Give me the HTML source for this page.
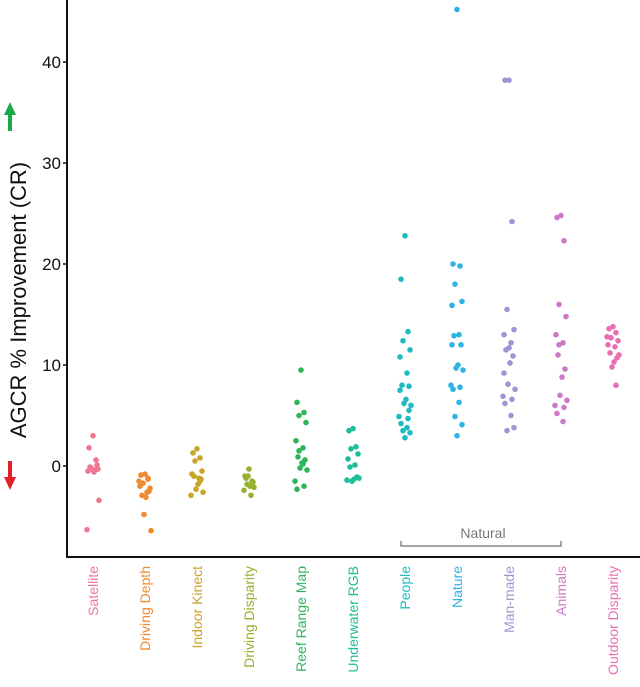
<!DOCTYPE html>
<html><head><meta charset="utf-8"><style>
body{margin:0;background:#fff}
svg{display:block;font-family:"Liberation Sans",sans-serif}
</style></head><body>
<svg id="chart" width="640" height="687" viewBox="0 0 640 687"></svg>
<script>
const categories=["Satellite","Driving Depth","Indoor Kinect","Driving Disparity","Reef Range Map","Underwater RGB","People","Nature","Man-made","Animals","Outdoor Disparity"];
const colors=["#f07691","#f08a2e","#c8a429","#96b12e","#2eb55a","#1ebc98","#1ebcc1","#2fb2e6","#9c96d4","#cc79c8","#e96fb3"];
const satellite=[3,1.8,0.6,-0.2,-0.3,-0.5,-0.4,-0.1,0.1,-0.6,-0.3,-3.4,-6.3];
const drivingDepth=[-0.8,-0.9,-1.3,-1.7,-2.2,-2.0,-2.6,-2.9,-2.5,-3.1,-4.8,-6.4,-1.5,-1.2];
const indoorKinect=[1.7,1.3,0.8,0.5,-0.5,-0.8,-1.2,-1.0,-1.3,-1.8,-2.3,-2.6,-2.9,-1.5];
const drivingDisparity=[-0.3,-1.0,-1.5,-1.8,-2.1,-2.4,-2.9,-1.2,-1.6,-2.0,-1.0];
const reef=[9.5,6.3,5.3,5.0,4.3,2.5,1.8,0.9,0.6,0.3,-0.2,-0.4,-1.5,-2.0,-2.3,0.2,1.5];
const underwater=[3.7,3.5,1.9,1.7,1.2,0.7,0.1,-0.1,-1.1,-1.3,-1.5,-1.2,-1.4];
const people=[22.8,18.5,13.3,12.4,11.5,10.8,9.2,8.0,7.9,6.6,6.2,6.0,4.9,4.7,4.2,3.8,3.5,3.3,2.8,7.5,5.5];
const nature=[45.2,20.0,19.8,18.0,16.3,15.9,13.0,12.9,12.0,10.0,9.7,9.5,8.0,7.8,7.6,6.3,4.9,4.1,3.0,12.0];
const manMade=[38.2,38.2,24.2,15.5,13.5,13.0,12.2,11.5,10.9,10.2,8.1,7.6,6.9,6.6,6.2,5.0,3.5,3.8,11.7,9.2];
const animals=[24.8,24.6,22.3,16.0,14.8,13.0,12.2,11.0,9.6,8.8,7.0,6.5,6.0,5.8,5.2,4.4,12.0];
const outdoor=[13.8,13.6,13.2,12.7,12.4,12.0,11.8,11.2,10.7,10.3,9.8,11.0,12.8,8.0];
const series=[satellite,drivingDepth,indoorKinect,drivingDisparity,reef,underwater,people,nature,manMade,animals,outdoor];
const yTicks=[0,10,20,30,40];

const NS="http://www.w3.org/2000/svg";
const svg=document.getElementById("chart");
const x0=67,xBot=557;
const y=v=>466-10.1*v;
const x=i=>93+52*i;
function mk(t,a,parent){const e=document.createElementNS(NS,t);for(const k in a)e.setAttribute(k,a[k]);(parent||svg).appendChild(e);return e;}

let ax=mk("path",{d:`M${x0},0 V${xBot} H640`,stroke:"#111",fill:"none","stroke-width":2});


yTicks.forEach(t=>{
 const l=mk("line",{x1:x0-4,x2:x0,y1:y(t),y2:y(t),stroke:"#111","stroke-width":1.5});
 
 
 const tx=mk("text",{x:x0-6,y:y(t)+6,"text-anchor":"end","font-size":17,fill:"#111"});
 tx.textContent=t;
 
 
});
const jit=[0,-4,3,-2,5,-5,2,-3,4,1,-1,6,-6,3,-4,2,-2,5,0,-5,4];
series.forEach((vals,i)=>{
 const g=mk("g",{});
 
 
 vals.forEach((v,j)=>{
  const c=mk("circle",{cx:x(i)+jit[j%jit.length],cy:y(v),r:2.8,fill:colors[i]},g);
  
  
 });
 const lab=mk("text",{transform:`translate(${x(i)+5},566) rotate(-90)`,"text-anchor":"end","font-size":14,fill:colors[i]});
 lab.textContent=categories[i];
 
 
});
const br=mk("path",{d:`M${x(6)-4},541 V546 H${x(9)} V541`,stroke:"#888",fill:"none","stroke-width":1.5});


const nt=mk("text",{x:(x(6)+x(9))/2,y:538,"text-anchor":"middle","font-size":14,fill:"#777"});
nt.textContent="Natural";


const yt=mk("text",{transform:"translate(26,300) rotate(-90)","text-anchor":"middle","font-size":22,fill:"#111"});
yt.textContent="AGCR % Improvement (CR)";


const ua=mk("path",{d:"M10,102 L4,115 H8 V131 H12 V115 H16 Z",fill:"#1aaa4a"});


const da=mk("path",{d:"M10,490 L4,477 H8 V461 H12 V477 H16 Z",fill:"#e0202a"});


</script>
</body></html>
